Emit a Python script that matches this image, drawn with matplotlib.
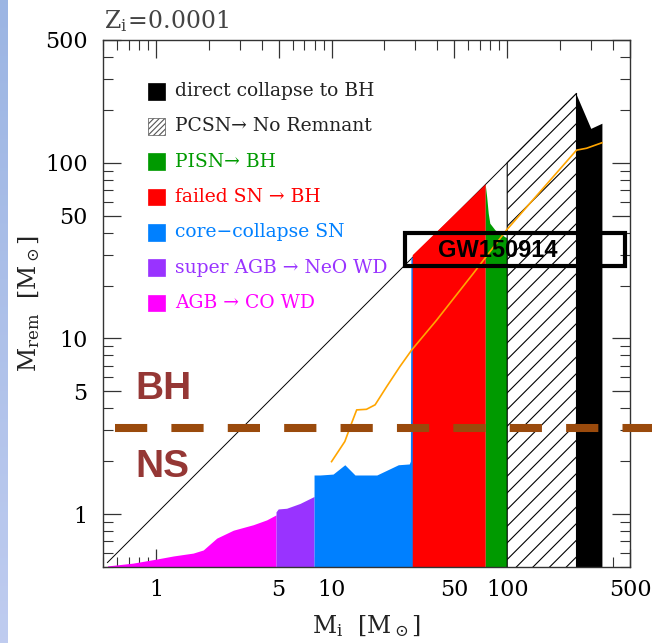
import numpy as np
import matplotlib
matplotlib.use('Agg')
import matplotlib.pyplot as plt
from matplotlib.patches import Rectangle
from matplotlib.ticker import FixedLocator, LogLocator, NullFormatter, FuncFormatter

plt.rcParams['font.family'] = ['DejaVu Serif']
plt.rcParams['mathtext.fontset'] = 'dejavuserif'
plt.rcParams['hatch.color'] = 'black'
plt.rcParams['hatch.linewidth'] = 0.8

# remnant mass vs initial mass, Z = 0.0001
agb_mi = [0.53, 0.74, 1.0, 1.26, 1.63, 1.86, 2.22, 2.76, 3.58, 4.27, 4.83]
agb_mrem = [0.507, 0.526, 0.554, 0.578, 0.60, 0.625, 0.73, 0.81, 0.87, 0.927, 0.99]

sagb_mi = [4.83, 4.97, 5.55, 6.61, 7.95]
sagb_mrem = [1.03, 1.07, 1.08, 1.15, 1.26]

ccsn_mi = [7.95, 8.6, 10.2, 11.9, 13.6, 18.1, 24.0, 27.7, 28.1, 28.3, 28.9]
ccsn_mrem = [1.67, 1.67, 1.69, 1.91, 1.67, 1.67, 1.91, 1.93, 2.0, 29.0, 29.0]

fsn_mi = [28.8, 75.0]
fsn_mrem = [30.0, 76.0]

pisn_mi = [75.0, 76.4, 78.0, 79.6, 85.2, 97.0, 100.0]
pisn_mrem = [75.0, 64.1, 51.6, 45.3, 41.5, 37.9, 37.5]

pcsn_mi = [100.0, 248.0]
pcsn_mrem = [100.0, 248.0]

dcbh_mi = [248.0, 299.0, 346.0]
dcbh_mrem = [243.0, 157.0, 168.0]

# orange track
track_mi = [10.0, 11.9, 13.0, 13.9, 15.8, 17.7, 20.6, 24.5, 28.6, 39.6, 64.2, 99.3, 248.0, 283.0, 346.0]
track_mrem = [1.99, 2.59, 3.29, 3.92, 3.95, 4.19, 5.32, 6.92, 8.6, 12.7, 23.5, 41.5, 118.0, 121.0, 130.0]

diag_mi = [0.53, 248.0]

ns_bh_limit = 3.08

major_ticks = [1, 5, 10, 50, 100, 500]

legend_labels = ['direct collapse to BH', 'PCSN\u2192 No Remnant', 'PISN\u2192 BH',
                 'failed SN \u2192 BH', 'core\u2212collapse SN', 'super AGB \u2192 NeO WD',
                 'AGB \u2192 CO WD']
legend_colors = ['black', 'white', '#009a00', '#ff0000', '#0080ff', '#9933ff', '#ff00ff']
legend_text_colors = ['#222222', '#222222', '#009a00', '#ff0000', '#0080ff', '#9933ff', '#ff00ff']

fig = plt.figure(figsize=(6.52, 6.43), dpi=100)

# slide edge strip
strip = fig.add_axes([0, 0, 8 / 652, 1])
grad = np.linspace(0, 1, 256).reshape(-1, 1)
top_c = np.array([0.61, 0.71, 0.89])
bot_c = np.array([0.75, 0.80, 0.94])
strip.imshow(top_c + grad[:, :, None] * (bot_c - top_c), aspect='auto')
strip.axis('off')

ax = fig.add_axes([103 / 652, 76 / 643, 527 / 652, 527 / 643])
ax.set_xscale('log')
ax.set_yscale('log')
ax.set_xlim(0.5, 500)
ax.set_ylim(0.5, 500)

ax.plot(diag_mi, diag_mi, color='black', lw=0.7, zorder=1)

ax.fill_between(agb_mi, 0.3, agb_mrem, color='#ff00ff', lw=0, zorder=2)
ax.fill_between(sagb_mi, 0.3, sagb_mrem, color='#9933ff', lw=0, zorder=2)
ax.fill_between(ccsn_mi, 0.3, ccsn_mrem, color='#0080ff', lw=0, zorder=2)
ax.fill_between(fsn_mi, 0.3, fsn_mrem, color='#ff0000', lw=0, zorder=2)
ax.fill_between(pisn_mi, 0.3, pisn_mrem, color='#009a00', lw=0, zorder=2)
ax.fill_between(pcsn_mi, 0.3, pcsn_mrem, facecolor='white', edgecolor='black',
                hatch='//', lw=0.8, zorder=2)
ax.fill_between(dcbh_mi, 0.3, dcbh_mrem, color='black', lw=0, zorder=2)

ax.plot(track_mi, track_mrem, color='#ffa500', lw=1.2, zorder=3)

# GW150914 box
ax.add_patch(Rectangle((26.2, 25.9), 468 - 26.2, 39.8 - 25.9, fill=False,
                       edgecolor='black', lw=3, zorder=5))
ax.text(88.5, 31.5, 'GW150914', ha='center', va='center', fontsize=17,
        fontweight='bold', family='Liberation Sans', color='black', zorder=6)

# NS / BH boundary
ax.plot([0.585, 700], [ns_bh_limit, ns_bh_limit], color='#9a4a0c', lw=5.8,
        dashes=(4, 3), solid_capstyle='butt', dash_capstyle='butt',
        clip_on=False, zorder=7)
ax.text(1.10, 5.16, 'BH', ha='center', va='center', fontsize=28, fontweight='bold',
        family='Liberation Sans', color='#953735', zorder=7)
ax.text(1.09, 1.86, 'NS', ha='center', va='center', fontsize=28, fontweight='bold',
        family='Liberation Sans', color='#953735', zorder=7)

# legend
for i, (lab, fc, tc) in enumerate(zip(legend_labels, legend_colors, legend_text_colors)):
    yc = 0.903 - i * 0.067
    hatch = '//////' if fc == 'white' else None
    ax.add_patch(Rectangle((0.0854, yc - 0.016), 0.032, 0.032, transform=ax.transAxes,
                           facecolor=fc, edgecolor='#555555' if hatch else fc,
                           hatch=hatch, lw=0.5, zorder=8))
    ax.text(0.137, yc, lab, transform=ax.transAxes, ha='left', va='center',
            fontsize=13.5, color=tc, zorder=8)

# axes styling
for axis in (ax.xaxis, ax.yaxis):
    axis.set_major_locator(FixedLocator(major_ticks))
    axis.set_minor_locator(LogLocator(base=10, subs=np.arange(2, 10)))
    axis.set_major_formatter(FuncFormatter(lambda v, p: '%g' % v))
    axis.set_minor_formatter(NullFormatter())
ax.tick_params(which='both', direction='in', top=True, right=True, color='#333333')
ax.tick_params(which='major', length=13, width=0.9, labelsize=16)
ax.tick_params(which='minor', length=7, width=0.8)
ax.tick_params(axis='x', which='major', pad=9)
ax.tick_params(axis='y', which='major', pad=11)
for s in ax.spines.values():
    s.set_color('#333333')
    s.set_linewidth(1.0)

ax.set_xlabel(r'$\mathrm{M_i\ \ [M_\odot]}$', fontsize=17, color='#222222')
ax.set_ylabel(r'$\mathrm{M_{rem}\ \ [M_\odot]}$', fontsize=17, color='#222222')
ax.xaxis.set_label_coords(0.5, -0.087)
ax.yaxis.set_label_coords(-0.116, 0.5)

ax.text(0.002, 1.0 + 12 / 527, r'$\mathrm{Z_i\!=\!0.0001}$', transform=ax.transAxes,
        ha='left', va='baseline', fontsize=17, color='#444444')

fig.savefig('out.png', dpi=100)
